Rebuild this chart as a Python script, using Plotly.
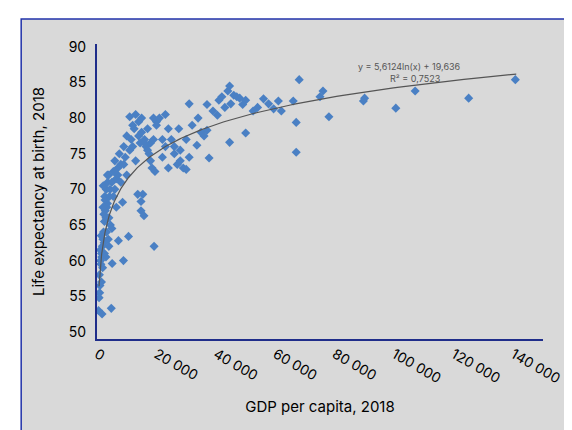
import numpy as np
import plotly.graph_objects as go

gdp = [500, 700, 900, 1000, 1100, 1200, 1300, 1500, 1600, 1700, 1800, 1900, 2000, 2200, 2300,
       2400, 2500, 2600, 2800, 3000, 3100, 3200, 3500, 3600, 3800, 4000, 4200, 4500, 4800, 5000,
       800, 1400, 2100, 2700, 3300, 3900, 4400, 5100, 5500, 6000, 6500, 7000, 7200, 7500, 8000,
       8600, 8900, 9000, 9500, 10000, 10600, 11000, 11500, 12000, 12500, 13000, 13700, 14000, 14500, 14800,
       14800, 15000, 15400, 15800, 16000, 16500, 17000, 17500, 18000, 18500, 19000, 19200, 19500, 20000, 21000,
       12000, 13000, 14000, 15000, 16000, 17000, 18000, 19000, 20000, 11000, 22000, 23000, 24000, 25000, 26000,
       27000, 28000, 29000, 30000, 31000, 32000, 33600, 35000, 37000, 37700, 40500, 37000, 31000, 44600, 50000,
       41000, 42000, 43000, 44000, 44600, 45000, 46000, 47000, 48000, 49000, 50000, 52500, 54000, 56000, 57700,
       59400, 61000, 62000, 66000, 67000, 67000, 68000, 75000, 76000, 78000, 89600, 90000, 100500, 107000, 125000,
       140700, 6000, 7000, 8000, 9000, 10000, 3000, 4000, 5000, 2000, 1500, 2500, 3500, 5500, 6500,
       24000, 26000, 28000, 22000, 34000, 36000, 39000, 30000, 27500, 23000]
life = [53.0, 54.8, 55.5, 56.5, 61.5, 60.0, 59.5, 61.0, 60.5, 52.5, 62.0, 59.0, 63.0, 64.0, 66.5,
        62.5, 65.5, 69.0, 67.0, 66.0, 70.0, 64.0, 68.0, 71.0, 63.0, 66.0, 69.0, 65.0, 53.3, 71.0,
        58.0, 63.5, 70.5, 68.5, 67.5, 72.0, 70.0, 59.6, 72.5, 74.0, 71.5, 73.0, 62.8, 75.0, 73.5,
        68.2, 60.0, 76.0, 74.5, 72.0, 63.4, 75.5, 77.0, 76.0, 78.5, 74.0, 69.3, 77.5, 76.5, 67.0,
        68.3, 78.0, 69.3, 66.3, 77.0, 76.0, 78.5, 75.0, 76.5, 73.0, 77.0, 62.0, 72.5, 79.5, 80.0,
        79.0, 80.5, 79.5, 80.0, 76.5, 75.5, 74.0, 80.0, 79.0, 80.2, 74.5, 76.0, 78.5, 77.0, 75.0,
        73.5, 74.0, 73.0, 77.0, 74.5, 79.0, 76.2, 78.0, 81.9, 74.4, 80.4, 78.3, 82.0, 76.6, 77.9,
        82.5, 83.0, 81.5, 83.8, 84.5, 82.0, 83.2, 83.0, 82.8, 81.9, 82.5, 81.0, 81.5, 82.7, 82.0,
        81.3, 82.4, 81.0, 82.4, 75.2, 79.4, 85.4, 83.0, 83.8, 80.2, 82.4, 82.8, 81.4, 83.8, 82.8,
        85.4, 70.0, 72.0, 71.0, 73.5, 77.5, 60.5, 62.0, 64.5, 67.5, 57.0, 61.0, 72.0, 69.0, 67.5,
        73.0, 76.0, 75.5, 77.0, 80.0, 77.5, 81.0, 72.8, 78.5, 80.5]

# logarithmic trendline from the fitted coefficients
a, b = 5.6124, 19.636
tx = np.geomspace(700, 141000, 200)
ty = a * np.log(tx) + b

fig = go.Figure()
fig.add_trace(go.Scatter(x=gdp, y=life, mode='markers',
                         marker=dict(symbol='diamond', size=7, color='#4a80c4')))
fig.add_trace(go.Scatter(x=tx, y=ty, mode='lines', line=dict(color='#555555', width=1.2)))

fig.add_annotation(x=105000, y=87.3, text='y = 5,6124ln(x) + 19,636', showarrow=False,
                   font=dict(size=9, color='#555'))
fig.add_annotation(x=107000, y=85.6, text='R² = 0,7523', showarrow=False,
                   font=dict(size=9, color='#555'))

# grey panel with blue frame
fig.add_shape(type='rect', xref='paper', yref='paper', x0=-0.17, x1=1.1, y0=-0.35, y1=1.085,
              fillcolor='#d9d9d9', line=dict(color='#2233aa', width=1.5), layer='below')

fig.update_layout(
    width=572, height=430, showlegend=False,
    paper_bgcolor='white', plot_bgcolor='rgba(0,0,0,0)',
    margin=dict(l=89, r=37, t=36, b=99, autoexpand=False),
    font=dict(family='Inter, Roboto, sans-serif', color='black'),
)
fig.update_xaxes(range=[0, 150000], tickvals=list(range(0, 140001, 20000)),
                 ticktext=['0'] + [f'{v//1000} 000' for v in range(20000, 140001, 20000)],
                 tickangle=30, showgrid=False, zeroline=False, showline=True, automargin=False,
                 linecolor='#1f2d8a', linewidth=2, ticks='', tickfont=dict(size=14),
                 title=dict(text='GDP per capita, 2018', font=dict(size=15), standoff=16))
fig.update_yaxes(range=[49, 90.4], tickvals=list(range(50, 91, 5)), showgrid=False, zeroline=False,
                 showline=True, linecolor='#1f2d8a', linewidth=2, ticks='', automargin=False,
                 tickfont=dict(size=14), ticklabelstandoff=6,
                 title=dict(text='Life expectancy at birth, 2018', font=dict(size=15), standoff=20))

fig.write_html('out.html')
